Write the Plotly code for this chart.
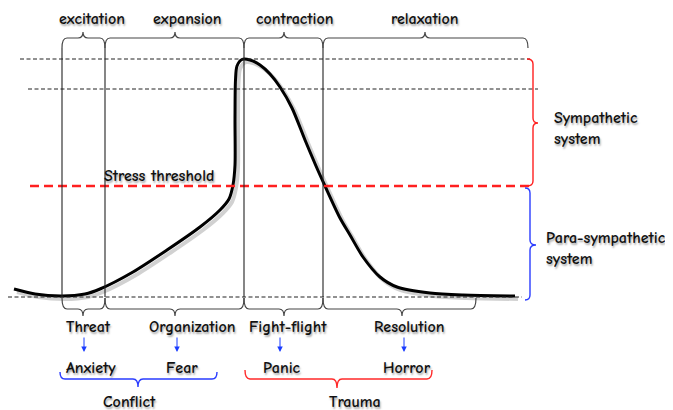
import plotly.graph_objects as go

# ---------------- data ----------------
phases = ["excitation", "expansion", "contraction", "relaxation"]
stages = ["Threat", "Organization", "Fight-flight", "Resolution"]
emotions = ["Anxiety", "Fear", "Panic", "Horror"]
groups = ["Conflict", "Trauma"]
systems = ["Sympathetic<br>system", "Para-sympathetic<br>system"]
threshold_label = "Stress threshold"

# stress response curve (pixel space)
curve_x = [14, 35, 62, 85, 100, 133, 167, 200, 220, 229, 233, 235, 235, 235.5, 237, 242, 250, 260, 270,
           280, 292, 305, 316, 325, 340, 350, 363, 380, 397, 430, 463, 515]
curve_y = [289, 294, 296, 294, 289, 272, 250, 227, 210, 199, 185, 165, 120, 80, 66, 59.5, 60, 65, 74,
           87, 108, 140, 166, 186, 218, 235, 257, 277, 287, 293, 295, 296]

# ---------------- layout helpers ----------------
FONT = "Comic Sans MS, Comic Neue, Lato, sans-serif"
SHADOW = "1px 2px 2px rgba(0,0,0,0.35)"
OFF = 8  # page body margin

fig = go.Figure()
shapes = []
annotations = []


def hbrace(x0, x1, xm, y_end, y_bar, y_tip, color, r=5, width=1.2):
    path = (f"M {x0},{y_end} Q {x0},{y_bar} {x0 + r},{y_bar} "
            f"L {xm - r},{y_bar} Q {xm},{y_bar} {xm},{y_tip} "
            f"Q {xm},{y_bar} {xm + r},{y_bar} "
            f"L {x1 - r},{y_bar} Q {x1},{y_bar} {x1},{y_end}")
    shapes.append(dict(type="path", path=path, line=dict(color=color, width=width),
                       xref="x", yref="y", layer="above"))


def vbrace(y0, y1, ym, x_end, x_bar, x_tip, color, r=5, width=1.4):
    path = (f"M {x_end},{y0} Q {x_bar},{y0} {x_bar},{y0 + r} "
            f"L {x_bar},{ym - r} Q {x_bar},{ym} {x_tip},{ym} "
            f"Q {x_bar},{ym} {x_bar},{ym + r} "
            f"L {x_bar},{y1 - r} Q {x_bar},{y1} {x_end},{y1}")
    shapes.append(dict(type="path", path=path, line=dict(color=color, width=width),
                       xref="x", yref="y", layer="above"))


def hline(x0, x1, y, color, dash, width=1):
    shapes.append(dict(type="line", x0=x0, x1=x1, y0=y, y1=y,
                       line=dict(color=color, dash=dash, width=width), xref="x", yref="y"))


def label(x, y, text, size=16, align="center"):
    annotations.append(dict(x=x, y=y, text=text, showarrow=False, xref="x", yref="y",
                            xanchor=align, yanchor="middle", align="left",
                            font=dict(family=FONT, size=size, color="#111", weight=600,
                                      shadow=SHADOW)))


# horizontal reference lines
hline(20, 530, 59, "#222", "4px,2.5px")
hline(28, 538, 89, "#222", "4px,2.5px")
hline(30, 530, 186, "#ff2020", "9px,5px", 2.4)
hline(8, 522, 297, "#222", "4px,2.5px")

# vertical phase separators
bounds = [62, 105, 244, 323]
for b in bounds:
    shapes.append(dict(type="line", x0=b, x1=b, y0=48, y1=297,
                       line=dict(color="#222", width=1.1), xref="x", yref="y"))

# top braces
top_spans = [(62, 105, 83), (105, 244, 175), (244, 323, 284), (323, 528, 425)]
top_lbl = [92, 187, 294, 424]
for (x0, x1, xm), lx, t in zip(top_spans, top_lbl, phases):
    hbrace(x0, x1, xm, 48, 38, 32, "#444")
    label(lx, 19, t)

# bottom braces
bot_spans = [(62, 105, 83), (105, 244, 175), (244, 323, 284), (323, 476, 402)]
bot_lbl = [88, 192, 288, 409]
for (x0, x1, xm), lx, t in zip(bot_spans, bot_lbl, stages):
    hbrace(x0, x1, xm, 298, 309, 316, "#444")
    label(lx, 327, t)

# blue arrows
arrow_x = [84, 177, 280, 404]
for ax in arrow_x:
    annotations.append(dict(x=ax, y=352, ax=ax, ay=336, xref="x", yref="y", axref="x", ayref="y",
                            text="", showarrow=True, arrowhead=2, arrowsize=1.1, arrowwidth=1,
                            arrowcolor="#1a3cff"))

emo_lbl = [91, 182, 282, 407]
for lx, t in zip(emo_lbl, emotions):
    label(lx, 368, t)

# group braces
hbrace(60, 217, 138, 372, 379, 387, "#2a3cff", r=5, width=1.4)
hbrace(245, 432, 337, 370, 379, 388, "#ff2a2a", r=5, width=1.4)
label(129, 402, groups[0])
label(355, 402, groups[1])

# right-side system braces
vbrace(59, 186, 123, 527, 533, 538, "#ff2020")
vbrace(188, 300, 245, 525, 530, 536, "#2a3cff")
label(552, 128, systems[0], align="left")
label(544, 248, systems[1], align="left")

# threshold label
label(159, 176, threshold_label)

# curve shadow + curve
fig.add_trace(go.Scatter(x=[v + 3 for v in curve_x], y=[v + 3 for v in curve_y], mode="lines",
                         line=dict(color="rgba(0,0,0,0.18)", width=4, shape="spline", smoothing=0.8),
                         hoverinfo="skip", showlegend=False))
fig.add_trace(go.Scatter(x=curve_x, y=curve_y, mode="lines",
                         line=dict(color="black", width=3, shape="spline", smoothing=0.8),
                         hoverinfo="skip", showlegend=False))

fig.update_layout(
    width=673 - OFF, height=410 - OFF, margin=dict(l=0, r=0, t=0, b=0),
    paper_bgcolor="white", plot_bgcolor="white",
    xaxis=dict(range=[OFF, 673], visible=False, fixedrange=True),
    yaxis=dict(range=[410, OFF], visible=False, fixedrange=True),
    shapes=shapes, annotations=annotations, showlegend=False,
)
fig.write_html("out.html")
